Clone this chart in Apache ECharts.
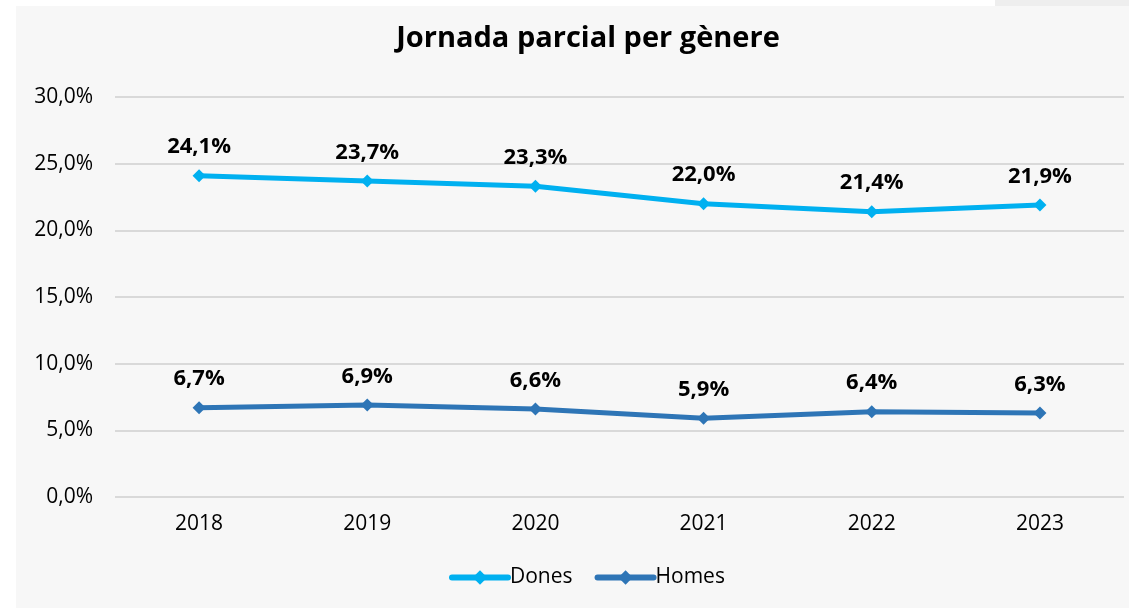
<!DOCTYPE html>
<html>
<head>
<meta charset="utf-8">
<script src="https://cdn.jsdelivr.net/npm/echarts@6/dist/echarts.min.js"></script>
<style>
  html, body { margin: 0; padding: 0; background: #ffffff; }
  #panel { position: absolute; left: 16px; top: 6px; right: 0; bottom: 0; background: #f7f7f7; }
  #tab { position: absolute; left: 995px; top: 0; right: 0; height: 6px; background: #eeeeee; }
  #chart { position: absolute; left: 0; top: 0; width: 1129px; height: 608px; }
</style>
</head>
<body>
<div id="tab"></div>
<div id="panel"></div>
<div id="chart"></div>
<script>
const years = ['2018', '2019', '2020', '2021', '2022', '2023'];
const dones = [24.1, 23.7, 23.3, 22.0, 21.4, 21.9];
const homes = [6.7, 6.9, 6.6, 5.9, 6.4, 6.3];
const titleText = 'Jornada parcial per gènere';

const FONT = '"Open Sans", "Noto Sans", sans-serif';
const fmt = v => v.toFixed(1).replace('.', ',') + '%';

const chart = echarts.init(document.getElementById('chart'), null, { renderer: 'canvas' });

function lineSeries(name, data, color) {
  return {
    name: name,
    type: 'line',
    data: data,
    symbol: 'diamond',
    symbolSize: 13,
    lineStyle: { color: color, width: 5 },
    itemStyle: { color: color },
    label: {
      show: true,
      position: 'top',
      distance: 11,
      color: '#000000',
      fontFamily: FONT,
      fontWeight: 'bold',
      fontSize: 22,
      formatter: p => fmt(p.value)
    },
    emphasis: { disabled: true },
    animation: false
  };
}

chart.setOption({
  backgroundColor: 'transparent',
  graphic: [{
    type: 'text',
    x: 588,
    y: 39,
    silent: true,
    style: {
      text: titleText,
      fontFamily: FONT,
      fontWeight: 'bold',
      fontSize: 29,
      fill: '#000000',
      textAlign: 'center',
      textVerticalAlign: 'middle'
    }
  }],
  legend: {
    bottom: 20,
    left: 449,
    padding: 0,
    itemWidth: 56,
    itemHeight: 18,
    itemGap: 22,
    lineStyle: { width: 6, cap: 'round' },
    textStyle: { fontFamily: FONT, fontSize: 21, color: '#000000', padding: [0, 0, 0, -3] },
    data: ['Dones', 'Homes']
  },
  grid: { left: 115, right: 5, top: 97, bottom: 111, containLabel: false },
  xAxis: {
    type: 'category',
    data: years,
    boundaryGap: true,
    axisLine: { show: false },
    axisTick: { show: false },
    axisLabel: { fontFamily: FONT, fontSize: 21, color: '#000000', margin: 17 }
  },
  yAxis: {
    type: 'value',
    min: 0,
    max: 30,
    interval: 5,
    axisLine: { show: false },
    axisTick: { show: false },
    splitLine: { lineStyle: { color: '#d9d9d9', width: 2 } },
    axisLabel: { fontFamily: FONT, fontSize: 21, color: '#000000', margin: 22, formatter: v => fmt(v) }
  },
  series: [
    lineSeries('Dones', dones, '#00b0f0'),
    lineSeries('Homes', homes, '#2e75b6')
  ]
});
</script>
</body>
</html>
